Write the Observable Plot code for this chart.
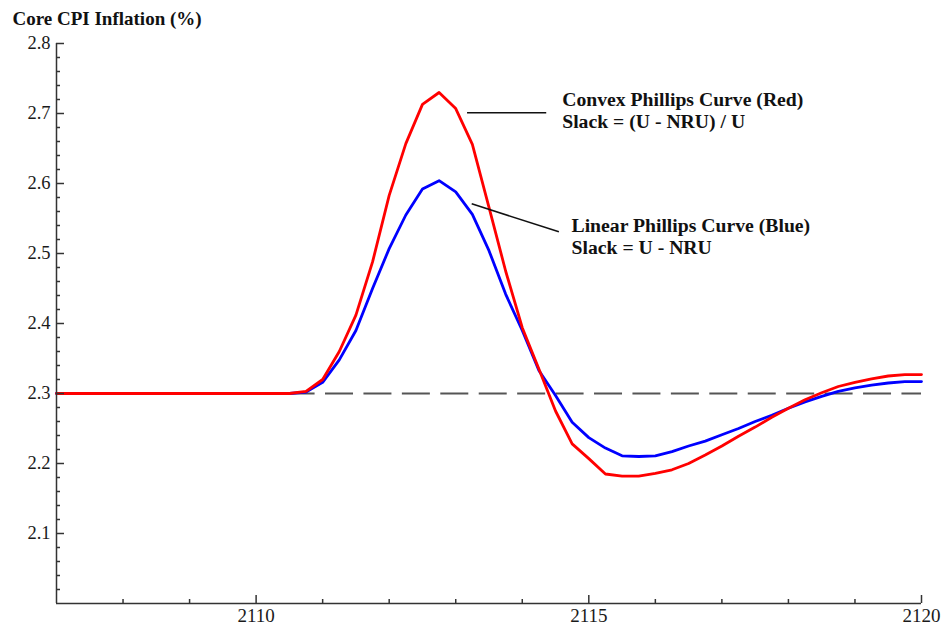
<!DOCTYPE html>
<html>
<head>
<meta charset="utf-8">
<script src="https://cdn.jsdelivr.net/npm/d3@7"></script>
<script src="https://cdn.jsdelivr.net/npm/@observablehq/plot@0.6"></script>
<style>
  html, body { margin: 0; padding: 0; background: #ffffff; }
  svg text { font-family: "Liberation Serif", "Times New Roman", Times, serif; }
</style>
</head>
<body>
<div id="chart"></div>
<script>
// ---- Data ----
const quarters = [
  2107.00, 2107.25, 2107.50, 2107.75,
  2108.00, 2108.25, 2108.50, 2108.75,
  2109.00, 2109.25, 2109.50, 2109.75,
  2110.00, 2110.25, 2110.50, 2110.75,
  2111.00, 2111.25, 2111.50, 2111.75,
  2112.00, 2112.25, 2112.50, 2112.75,
  2113.00, 2113.25, 2113.50, 2113.75,
  2114.00, 2114.25, 2114.50, 2114.75,
  2115.00, 2115.25, 2115.50, 2115.75,
  2116.00, 2116.25, 2116.50, 2116.75,
  2117.00, 2117.25, 2117.50, 2117.75,
  2118.00, 2118.25, 2118.50, 2118.75,
  2119.00, 2119.25, 2119.50, 2119.75,
  2120.00
];

// Convex Phillips Curve (Red)
const convexInflation = [
  2.300, 2.300, 2.300, 2.300,
  2.300, 2.300, 2.300, 2.300,
  2.300, 2.300, 2.300, 2.300,
  2.300, 2.300, 2.300, 2.303,
  2.320, 2.360, 2.412, 2.488,
  2.583, 2.657, 2.713, 2.730,
  2.707, 2.656, 2.566, 2.475,
  2.394, 2.335, 2.275, 2.228,
  2.207, 2.185, 2.182, 2.182,
  2.186, 2.191, 2.200, 2.212,
  2.225, 2.239, 2.252, 2.266,
  2.279, 2.291, 2.301, 2.310,
  2.316, 2.321, 2.325, 2.327,
  2.327
];

// Linear Phillips Curve (Blue)
const linearInflation = [
  2.300, 2.300, 2.300, 2.300,
  2.300, 2.300, 2.300, 2.300,
  2.300, 2.300, 2.300, 2.300,
  2.300, 2.300, 2.300, 2.302,
  2.316, 2.348, 2.390, 2.450,
  2.507, 2.555, 2.592, 2.604,
  2.588, 2.556, 2.504, 2.442,
  2.390, 2.333, 2.297, 2.259,
  2.237, 2.222, 2.211, 2.210,
  2.211, 2.217, 2.225, 2.232,
  2.241, 2.250, 2.260, 2.269,
  2.279, 2.288, 2.296, 2.303,
  2.308, 2.312, 2.315, 2.317,
  2.317
];

const baselineInflation = [2.3];

const xMajorTicks = [2110, 2115, 2120];
const xMinorTicks = [2108, 2109, 2111, 2112, 2113, 2114, 2116, 2117, 2118, 2119];
const yMajorTicks = [2.1, 2.2, 2.3, 2.4, 2.5, 2.6, 2.7, 2.8];
const yMinorTicks = [
  2.02, 2.04, 2.06, 2.08, 2.12, 2.14, 2.16, 2.18,
  2.22, 2.24, 2.26, 2.28, 2.32, 2.34, 2.36, 2.38,
  2.42, 2.44, 2.46, 2.48, 2.52, 2.54, 2.56, 2.58,
  2.62, 2.64, 2.66, 2.68, 2.72, 2.74, 2.76, 2.78
];

const titleText = ["Core CPI Inflation (%)"];
const annotationTexts = [
  "Convex Phillips Curve (Red)\nSlack = (U - NRU) / U",
  "Linear Phillips Curve (Blue)\nSlack = U - NRU"
];
const annotationX = [2114.60, 2114.74];
const annotationY = [2.680, 2.500];

const leaderX1 = [2113.17, 2113.24];
const leaderY1 = [2.701, 2.571];
const leaderX2 = [2114.36, 2114.55];
const leaderY2 = [2.701, 2.531];

// ---- Chart ----
const serif = "Liberation Serif, Times New Roman, Times, serif";
const axisColor = "#333333";

const chart = Plot.plot({
  width: 948,
  height: 627,
  marginLeft: 56,
  marginRight: 27,
  marginTop: 43,
  marginBottom: 24,
  x: { domain: [2107, 2120] },
  y: { domain: [2.0, 2.8] },
  style: "font-family: 'Liberation Serif', 'Times New Roman', Times, serif; background: #ffffff; color: #1a1a1a; overflow: visible;",
  marks: [
    Plot.ruleY(baselineInflation, { stroke: "#555555", strokeWidth: 2, strokeDasharray: "28,10.43" }),
    Plot.line(quarters, { x: quarters, y: linearInflation, stroke: "#0000ff", strokeWidth: 2.8 }),
    Plot.line(quarters, { x: quarters, y: convexInflation, stroke: "#ff0000", strokeWidth: 2.8 }),
    Plot.ruleX([2107], { stroke: axisColor, strokeWidth: 1.5 }),
    Plot.ruleY([2.0], { stroke: axisColor, strokeWidth: 1.5 }),
    Plot.axisY({ ticks: yMinorTicks, tickSize: -4, tickFormat: () => "", label: null, stroke: axisColor, strokeWidth: 1.5 }),
    Plot.axisY({ ticks: yMajorTicks, tickSize: -8, tickPadding: 14, tickFormat: d3.format(".1f"), label: null,
                 stroke: axisColor, strokeWidth: 1.5, fontSize: 18.5, fontFamily: serif, fill: "#1a1a1a" }),
    Plot.axisX({ ticks: xMinorTicks, tickSize: -4, tickFormat: () => "", label: null, stroke: axisColor, strokeWidth: 1.5 }),
    Plot.axisX({ ticks: xMajorTicks, tickSize: -8, tickPadding: 12.5, tickFormat: d3.format("d"), label: null,
                 stroke: axisColor, strokeWidth: 1.5, fontSize: 19, fontFamily: serif, fill: "#1a1a1a" }),
    Plot.link(annotationTexts, { x1: leaderX1, y1: leaderY1, x2: leaderX2, y2: leaderY2, stroke: "#111111", strokeWidth: 1.5 }),
    Plot.text(annotationTexts, { x: annotationX, y: annotationY, text: annotationTexts, textAnchor: "start",
                 lineAnchor: "bottom", lineHeight: 1.08, fontWeight: "bold", fontSize: 19.7, fontFamily: serif, fill: "#111111" }),
    Plot.text(titleText, { frameAnchor: "top-left", text: titleText, textAnchor: "start", lineAnchor: "bottom",
                 dx: -44, dy: -19, fontWeight: "bold", fontSize: 19, fontFamily: serif, fill: "#111111" })
  ]
});

document.getElementById("chart").appendChild(chart);
</script>
</body>
</html>
